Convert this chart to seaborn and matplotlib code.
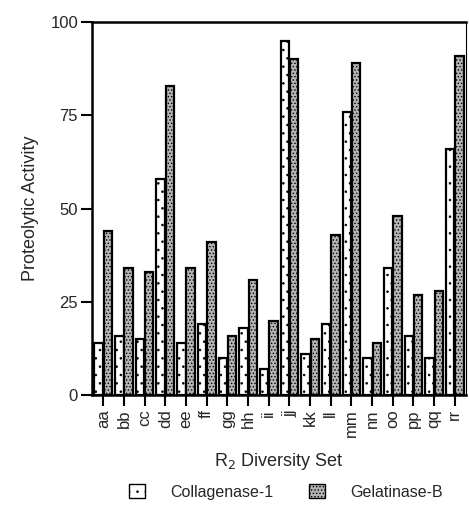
import pandas as pd
import seaborn as sns
import matplotlib.pyplot as plt
from matplotlib.patches import Patch

sets = ['aa', 'bb', 'cc', 'dd', 'ee', 'ff', 'gg', 'hh', 'ii', 'jj',
        'kk', 'll', 'mm', 'nn', 'oo', 'pp', 'qq', 'rr']
collagenase = [14, 16, 15, 58, 14, 19, 10, 18, 7, 95, 11, 19, 76, 10, 34, 16, 10, 66]
gelatinase = [44, 34, 33, 83, 34, 41, 16, 31, 20, 90, 15, 43, 89, 14, 48, 27, 28, 91]

df = pd.DataFrame({
    'set': sets * 2,
    'value': collagenase + gelatinase,
    'enzyme': ['Collagenase-1'] * len(sets) + ['Gelatinase-B'] * len(sets),
})

sns.set_style('ticks')
plt.rcParams['font.family'] = ['Liberation Sans', 'DejaVu Sans']
plt.rcParams['hatch.linewidth'] = 0.6

fig = plt.figure(figsize=(4.69, 5.14), dpi=100)
ax = fig.add_axes([0.196, 0.231, 0.798, 0.726])

sns.barplot(data=df, x='set', y='value', hue='enzyme', ax=ax,
            palette=['white', '#b4b4b4'], width=0.9, gap=0.1,
            edgecolor='black', linewidth=1.6, legend=False)

n = len(sets)
for i, bar in enumerate(ax.patches[:2 * n]):
    if i < n:
        bar.set_hatch('..')
    else:
        bar.set_hatch('.....')

ax.set_ylim(0, 100)
ax.set_xlim(-0.55, n - 0.45)
ax.set_yticks([0, 25, 50, 75, 100])
ax.tick_params(axis='both', length=8, width=1.5, labelsize=12, color='black', pad=2)
ax.tick_params(axis='x', labelrotation=90)
for s in ax.spines.values():
    s.set_color('black')
ax.spines['left'].set_linewidth(1.8)
ax.spines['bottom'].set_linewidth(1.8)
ax.spines['top'].set_linewidth(1.8)
ax.spines['right'].set_linewidth(0.8)

ax.set_ylabel('Proteolytic Activity', fontsize=13, labelpad=8)
ax.set_xlabel('R$_2$ Diversity Set', fontsize=13, labelpad=10)

handles = [Patch(facecolor='white', edgecolor='black', hatch='..', label='Collagenase-1'),
           Patch(facecolor='#b4b4b4', edgecolor='black', hatch='.....', label='Gelatinase-B')]
fig.legend(handles=handles, loc='lower center', bbox_to_anchor=(0.61, 0.0), ncol=2,
           frameon=False, fontsize=11.5, handlelength=1.0, handleheight=1.0,
           handletextpad=1.6, columnspacing=2.2)

fig.savefig('out.png', dpi=100)
